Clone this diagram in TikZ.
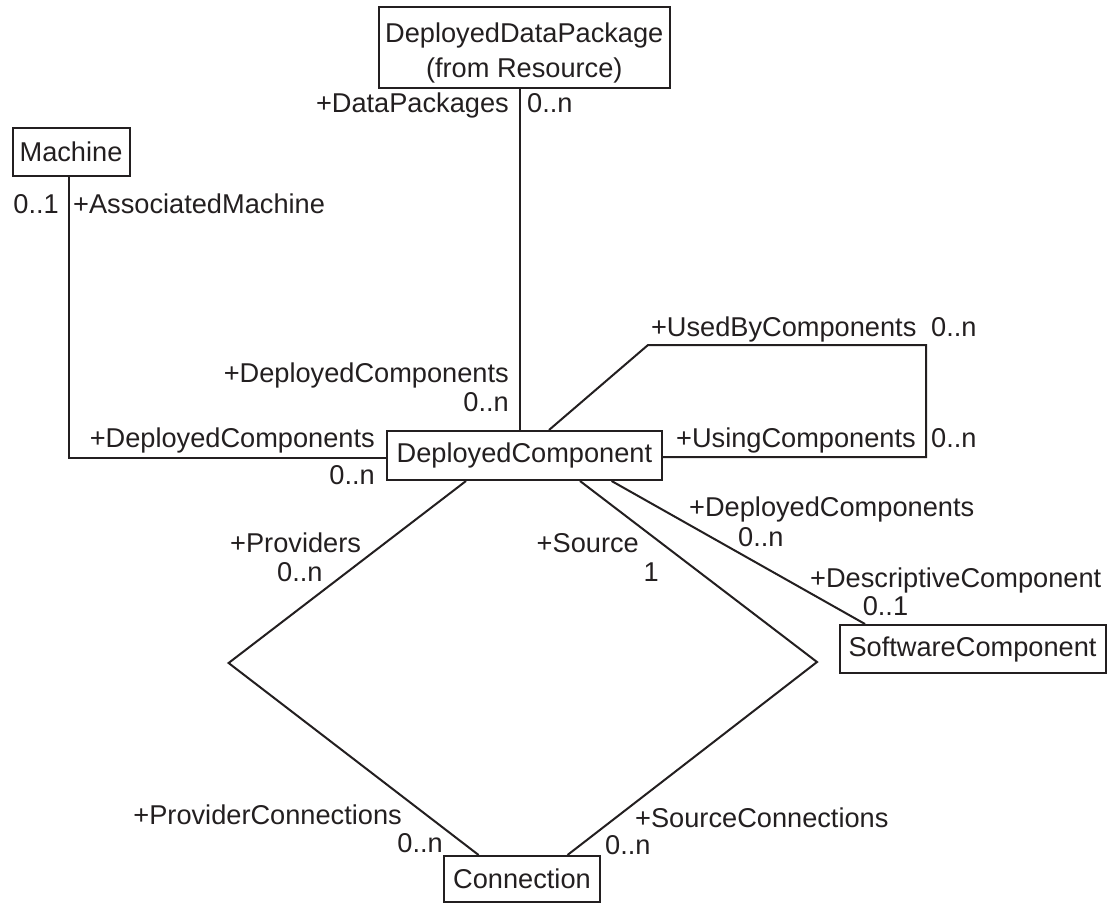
\documentclass[tikz,border=0pt]{standalone}
\usepackage{fontspec}
\setmainfont{Liberation Sans}
\definecolor{inkc}{RGB}{35,31,32}
\begin{document}
\begin{tikzpicture}[x=1pt,y=-1pt,
  assoc/.style={draw=inkc, line width=2pt},
  cls/.style={draw=inkc, line width=2pt, inner sep=0pt, text=inkc,
    font=\fontsize{27.2}{35}\selectfont, align=center},
  lbl/.style={inner sep=0pt, text=inkc, font=\fontsize{27.2}{33}\selectfont},
]
\useasboundingbox (0,0) rectangle (1116,905);

% classes
\node[cls, minimum width=291.4pt, minimum height=81pt] (ddp) at (524.3,47.5)
  {\rule{0pt}{30pt}DeployedDataPackage\\(from Resource)};
\node[cls, minimum width=117pt, minimum height=48pt] (machine) at (71,152) {Machine};
\node[cls, minimum width=275pt, minimum height=49pt] (dc) at (524.4,455.5) {DeployedComponent};
\node[cls, minimum width=266pt, minimum height=48pt] (sw) at (972.5,649) {SoftwareComponent};
\node[cls, minimum width=156pt, minimum height=46pt] (cnx) at (522,879) {Connection};

% helper coordinates for connector routing
\coordinate (xp) at (520,0);
\coordinate (xm) at (69,0);
\coordinate (ym) at (0,458);
\coordinate (u0) at (549,0);
\coordinate (u1) at (648,345);
\coordinate (u2) at (926,345);
\coordinate (u3) at (926,457);
\coordinate (p0) at (466,0);
\coordinate (lv) at (228.6,663);
\coordinate (p1) at (478.6,0);
\coordinate (s0) at (580,0);
\coordinate (rv) at (817,662);
\coordinate (s1) at (567.5,0);
\coordinate (d0) at (611.6,0);
\coordinate (d1) at (865,0);

% associations
\draw[assoc] (ddp.south -| xp) -- (dc.north -| xp);
\draw[assoc] (machine.south -| xm) |- (dc.west |- ym);
\draw[assoc] (dc.north -| u0) -- (u1) -- (u2) -- (u3) -- (dc.east |- u3);
\draw[assoc] (dc.south -| p0) -- (lv) -- (cnx.north -| p1);
\draw[assoc] (dc.south -| s0) -- (rv) -- (cnx.north -| s1);
\draw[assoc] (dc.south -| d0) -- (sw.north -| d1);

% role names and multiplicities
\node[lbl, anchor=base east] (r1) at (509,112.5) {+DataPackages};
\node[lbl, anchor=base west] (m1) at (527,112.5) {0..n};
\node[lbl, anchor=base east] (m2) at (59,213) {0..1};
\node[lbl, anchor=base west] (r2) at (73,213) {+AssociatedMachine};
\node[lbl, anchor=base east] (r3) at (509,382.5) {+DeployedComponents};
\node[lbl, anchor=base east] (m3) at (509,411) {0..n};
\node[lbl, anchor=base east] (r4) at (375,447.5) {+DeployedComponents};
\node[lbl, anchor=base east] (m4) at (375,484.5) {0..n};
\node[lbl, anchor=base east] (r5) at (916.6,336.5) {+UsedByComponents};
\node[lbl, anchor=base west] (m5) at (931,336.5) {0..n};
\node[lbl, anchor=base east] (r6) at (916,447) {+UsingComponents};
\node[lbl, anchor=base west] (m6) at (931,447) {0..n};
\node[lbl, anchor=base west] (r7) at (689,516.5) {+DeployedComponents};
\node[lbl, anchor=base west] (m7) at (738,546.5) {0..n};
\node[lbl, anchor=base west] (r8) at (810,587.5) {+DescriptiveComponent};
\node[lbl, anchor=base west] (m8) at (862.6,615.5) {0..1};
\node[lbl, anchor=base west] (r9) at (230,552.5) {+Providers};
\node[lbl, anchor=base west] (m9) at (277,581.5) {0..n};
\node[lbl, anchor=base east] (r10) at (639,552.5) {+Source};
\node[lbl, anchor=base east] (m10) at (659,581.5) {1};
\node[lbl, anchor=base east] (r11) at (402,824.5) {+ProviderConnections};
\node[lbl, anchor=base east] (m11) at (443,852.5) {0..n};
\node[lbl, anchor=base west] (r12) at (635,827.5) {+SourceConnections};
\node[lbl, anchor=base west] (m12) at (605,854.5) {0..n};
\end{tikzpicture}
\end{document}
